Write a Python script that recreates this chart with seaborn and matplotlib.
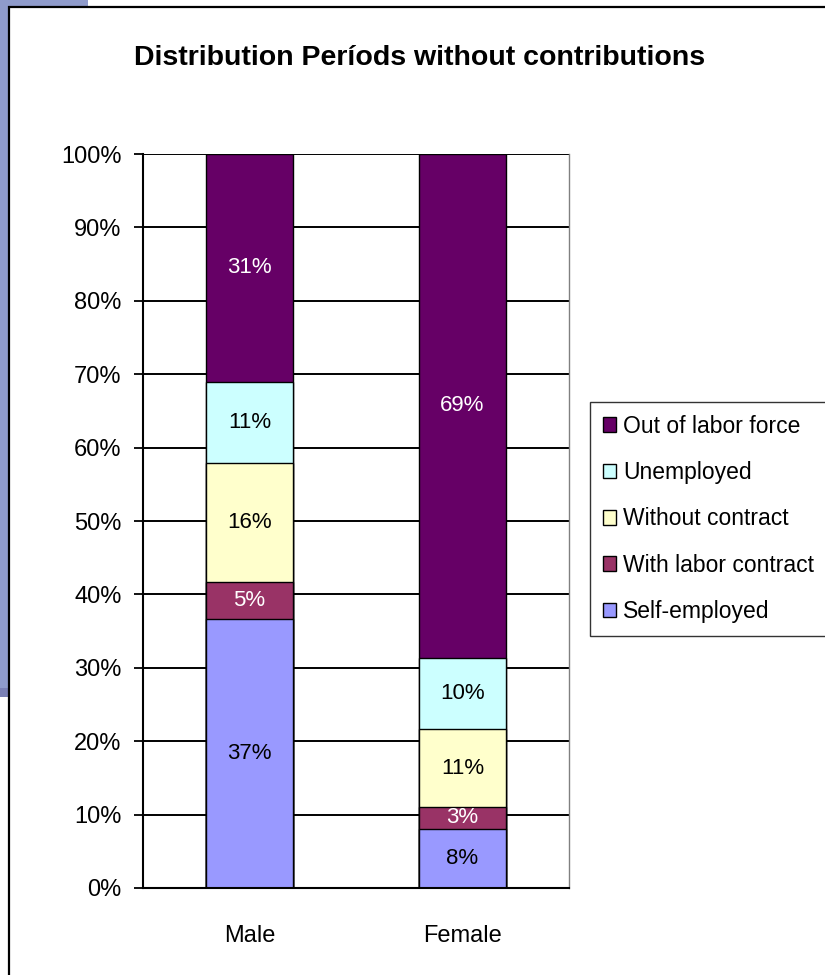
import matplotlib
matplotlib.use("Agg")
import matplotlib.pyplot as plt
from matplotlib.patches import Rectangle, Patch
import seaborn as sns
import pandas as pd
import numpy as np

categories = ["Male", "Female"]
series = ["Self-employed", "With labor contract", "Without contract", "Unemployed", "Out of labor force"]
male = [36.6, 5.1, 16.2, 11.1, 31.0]
female = [8.1, 2.9, 10.6, 9.8, 68.6]
colors = ["#9999FF", "#993366", "#FFFFCC", "#CCFFFF", "#660066"]
label_colors = ["black", "white", "black", "black", "white"]
yticks = [0, 10, 20, 30, 40, 50, 60, 70, 80, 90, 100]
ytick_labels = ["0%", "10%", "20%", "30%", "40%", "50%", "60%", "70%", "80%", "90%", "100%"]
title = "Distribution Períods without contributions"

sns.set_style("white")
plt.rcParams["font.family"] = ["Liberation Sans", "DejaVu Sans"]
plt.rcParams["text.color"] = "black"
plt.rcParams["xtick.color"] = "black"
plt.rcParams["ytick.color"] = "black"
plt.rcParams["axes.labelcolor"] = "black"

W, H = 825, 975
fig = plt.figure(figsize=(W / 100, H / 100), dpi=100)
fig.patch.set_facecolor("white")

def px_rect(x0, y0, x1, y1, **kw):
    return Rectangle((x0 / W, 1 - y1 / H), (x1 - x0) / W, (y1 - y0) / H,
                     transform=fig.transFigure, **kw)

# background decorations
fig.patches.append(px_rect(0, 0, 88, 697, facecolor="#8F9BCB", edgecolor="none", zorder=-3))
fig.patches.append(px_rect(0, 688, 8, 697, facecolor="#7A80B5", edgecolor="none", zorder=-2))
fig.patches.append(px_rect(8.5, 6.5, 840, 990, facecolor="white", edgecolor="black",
                           linewidth=1.6, zorder=-1))

ax = fig.add_axes([143 / W, 1 - 888 / H, 426 / W, 734 / H])
ax.set_facecolor("none")
ax.set_zorder(1)

df = pd.DataFrame({"category": np.repeat(categories, len(series)),
                   "series": series * len(categories),
                   "value": male + female})
df["cum"] = df.groupby("category")["value"].cumsum()
df["base"] = df["cum"] - df["value"]

# draw stacked bars: tallest cumulative first
for i in reversed(range(len(series))):
    sub = df[df["series"] == series[i]]
    sns.barplot(data=sub, x="category", y="cum", order=categories, color=colors[i],
                width=0.413, edgecolor="black", linewidth=1.0, saturation=1, ax=ax, zorder=3)

# labels
for _, r in df.iterrows():
    i = series.index(r["series"])
    xi = categories.index(r["category"])
    ax.text(xi, r["base"] + r["value"] / 2, f"{r['value']:.0f}%", ha="center", va="center",
            color=label_colors[i], fontsize=16, zorder=5)

ax.set_xlim(-0.5, 1.5)
ax.set_ylim(0, 100)
ax.set_yticks(yticks)
ax.set_yticklabels(ytick_labels, fontsize=17)
ax.set_xlabel("")
ax.set_ylabel("")
ax.set_xticks([0, 1])
ax.set_xticklabels(categories, fontsize=17)
ax.set_xticks([-0.5, 0.5, 1.5], minor=True)
ax.tick_params(axis="x", which="major", length=0, pad=27)
ax.tick_params(axis="x", which="minor", length=7.5, width=1.3, color="black", direction="out")
ax.tick_params(axis="y", which="major", length=6.5, width=1.3, color="black", pad=9, left=True)
ax.yaxis.grid(True, color="black", linewidth=1.4, zorder=0)
ax.set_axisbelow(True)
for s in ["left", "bottom"]:
    ax.spines[s].set_color("black")
    ax.spines[s].set_linewidth(1.5)
    ax.spines[s].set_zorder(6)
ax.spines["top"].set_visible(False)
ax.spines["right"].set_color("#808080")
ax.spines["right"].set_linewidth(1.0)

fig.text(420 / W, 1 - 58 / H, title, ha="center", va="center", fontsize=20.5,
         fontweight="bold", color="black")

handles = [Patch(facecolor=colors[i], edgecolor="black", linewidth=1.0) for i in reversed(range(len(series)))]
labels = [series[i] for i in reversed(range(len(series)))]
leg = fig.legend(handles, labels, loc="upper left", bbox_to_anchor=(590 / W, 1 - 402 / H),
                 bbox_transform=fig.transFigure, fontsize=16.5, frameon=True, fancybox=False,
                 edgecolor="black", handlelength=0.6, handleheight=0.6, handletextpad=0.3,
                 labelspacing=1.02, borderpad=0.55, borderaxespad=0)
leg.get_frame().set_linewidth(1.0)
leg.set_zorder(10)

fig.savefig("out.png", dpi=100)
